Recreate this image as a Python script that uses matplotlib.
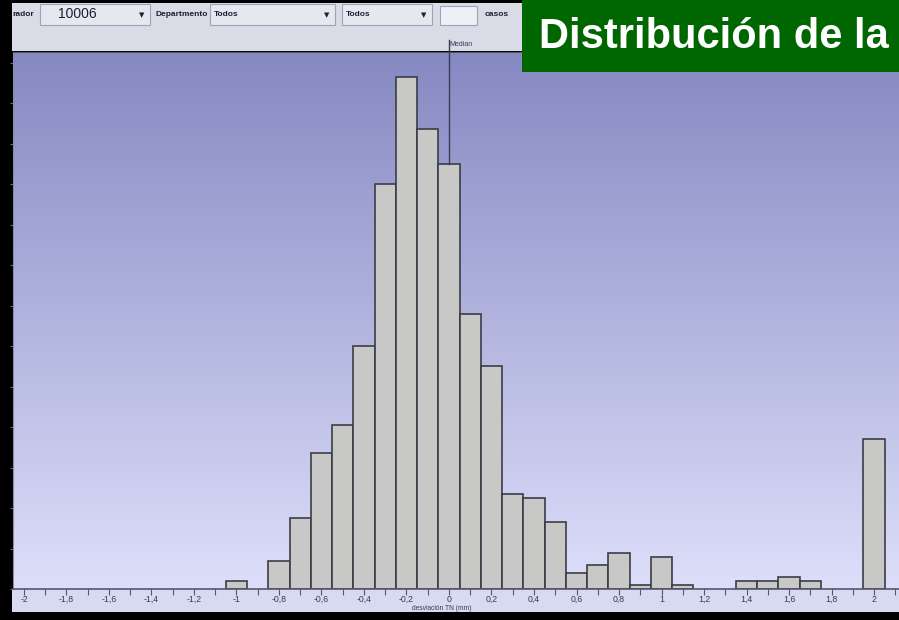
import matplotlib
matplotlib.use("Agg")
import matplotlib.pyplot as plt
import numpy as np
from matplotlib.patches import Rectangle
from matplotlib.ticker import MultipleLocator, FuncFormatter

# ---------------- data ----------------
bin_centers = [-1.0, -0.8, -0.7, -0.6, -0.5, -0.4, -0.3, -0.2, -0.1, 0.0,
               0.1, 0.2, 0.3, 0.4, 0.5, 0.6, 0.7, 0.8, 0.9, 1.0,
               1.1, 1.4, 1.5, 1.6, 1.7, 2.0]
counts = [2, 7, 17.5, 33.5, 40.5, 60, 100, 126.5, 113.5, 105,
          68, 55, 23.5, 22.5, 16.5, 4, 6, 9, 1, 8,
          1, 2, 2, 3, 2, 37]
bin_width = 0.1
median_value = 0.0
xtick_values = [-2, -1.8, -1.6, -1.4, -1.2, -1, -0.8, -0.6, -0.4, -0.2,
                0, 0.2, 0.4, 0.6, 0.8, 1, 1.2, 1.4, 1.6, 1.8, 2]
x_label = "desviación TN (mm)"
title_text = "Distribución de la"
toolbar_labels = ["rador", "Departmento", "casos"]
combo_values = ["10006", "Todos", "Todos"]

W, H = 899, 620
fig = plt.figure(figsize=(W / 100, H / 100), dpi=100, facecolor="black")

narrow = ["Liberation Sans Narrow", "Liberation Sans", "DejaVu Sans"]

def fx(px):
    return px / W

def fy(py):
    return 1 - py / H

# ---------------- main histogram axes ----------------
ax_left, ax_right, ax_top, ax_bottom = 13, 899, 52, 589
ax = fig.add_axes([fx(ax_left), fy(ax_bottom), fx(ax_right - ax_left), (ax_bottom - ax_top) / H])
px_per_unit = 212.5
x0_px = 449
xmin = (ax_left - x0_px) / px_per_unit
xmax = (ax_right - x0_px) / px_per_unit
px_per_count = 4.05
ymax = (ax_bottom - ax_top) / px_per_count
ax.set_xlim(xmin, xmax)
ax.set_ylim(0, ymax)

# gradient background
top_c = np.array([134, 137, 194]) / 255
bot_c = np.array([221, 223, 250]) / 255
t = np.linspace(0, 1, 256)[:, None]
grad = (top_c[None, :] * (1 - t) + bot_c[None, :] * t)[:, None, :]
ax.imshow(grad, extent=[xmin, xmax, 0, ymax], aspect="auto", origin="upper", zorder=0)

ax.bar(bin_centers, counts, width=bin_width, color="#c8c8c6", edgecolor="#3c3c48",
       linewidth=1.2, zorder=2)

# median line
h_med = counts[bin_centers.index(median_value)]
trans = ax.get_xaxis_transform()
ax.plot([median_value, median_value], [h_med / ymax, 1.022], transform=trans,
        color="#3a3a55", linewidth=1.0, clip_on=False, zorder=3)

ax.spines["right"].set_visible(False)
ax.spines["top"].set_color("#55566a")
ax.spines["left"].set_color("#8a8ca0")
ax.spines["bottom"].set_color("#55566a")
ax.spines["bottom"].set_linewidth(1.2)

ax.set_xticks(xtick_values)
ax.xaxis.set_minor_locator(MultipleLocator(0.1))
ax.xaxis.set_major_formatter(FuncFormatter(lambda v, p: ("%g" % round(v, 1)).replace(".", ",")))
ax.tick_params(axis="x", which="both", direction="out", length=4, width=0.8,
               colors="#55566a", labelcolor="#3a3a55", labelsize=6.3, pad=0.5)
for lbl in ax.get_xticklabels():
    lbl.set_family(narrow)
ax.yaxis.set_major_locator(MultipleLocator(10))
ax.tick_params(axis="y", which="both", direction="out", length=2, width=0.8,
               colors="#6a6c80", labelleft=False)

# ---------------- background interface panels ----------------
ov = fig.add_axes([0, 0, 1, 1], zorder=-1)
ov.set_xlim(0, W)
ov.set_ylim(H, 0)
ov.axis("off")
ov.patch.set_alpha(0)

ov.add_patch(Rectangle((12, 589), W - 12, 23, facecolor="#d7daf2", edgecolor="none"))
ov.add_patch(Rectangle((12, 3), W - 12, 48, facecolor="#d9dbe7", edgecolor="none"))

# ---------------- foreground interface elements ----------------
ov2 = fig.add_axes([0, 0, 1, 1], zorder=10)
ov2.set_xlim(0, W)
ov2.set_ylim(H, 0)
ov2.axis("off")
ov2.patch.set_alpha(0)

ov2.text(442, 608.5, x_label, fontsize=4.8, color="#3a3a55", ha="center", va="center",
         family=narrow)

def combo(x0, x1, text, bold, size, tx):
    ov2.add_patch(Rectangle((x0, 4), x1 - x0, 21, facecolor="#e6e8f0", edgecolor="#a0a2b6",
                            linewidth=0.8))
    ov2.text(tx, 14.5, text, fontsize=size, fontweight="bold" if bold else "normal",
             color="#1e1e30", ha="left", va="center", family=narrow)
    ov2.text(x1 - 8, 15, "▼", fontsize=5, color="#202030", ha="center", va="center",
             family="DejaVu Sans")

combo(40, 150, combo_values[0], False, 10, 58)
combo(210, 335, combo_values[1], True, 6, 214)
combo(342, 432, combo_values[2], True, 6, 346)
ov2.add_patch(Rectangle((440, 6), 37, 19, facecolor="#eef0f6", edgecolor="#a0a2b6", linewidth=0.8))

ov2.text(12, 15, toolbar_labels[0], fontsize=6, fontweight="bold", color="#1e1e30",
         ha="left", va="center", family=narrow)
ov2.text(155, 15, toolbar_labels[1], fontsize=6, fontweight="bold", color="#1e1e30",
         ha="left", va="center", family=narrow)
ov2.text(485, 15, toolbar_labels[2], fontsize=6, fontweight="bold", color="#1e1e30",
         ha="left", va="center", family=narrow)
ov2.text(449, 44.5, "Median", fontsize=5, color="#3a3a55", ha="left", va="center",
         family=narrow)

# green title box
ov2.add_patch(Rectangle((522, 0), W - 522, 72, facecolor="#006600", edgecolor="none"))
ov2.text(539, 37, title_text, fontsize=30, fontweight="bold", color="white",
         ha="left", va="center", family=["Liberation Sans", "DejaVu Sans"])

fig.savefig("out.png", dpi=100, facecolor="black")
